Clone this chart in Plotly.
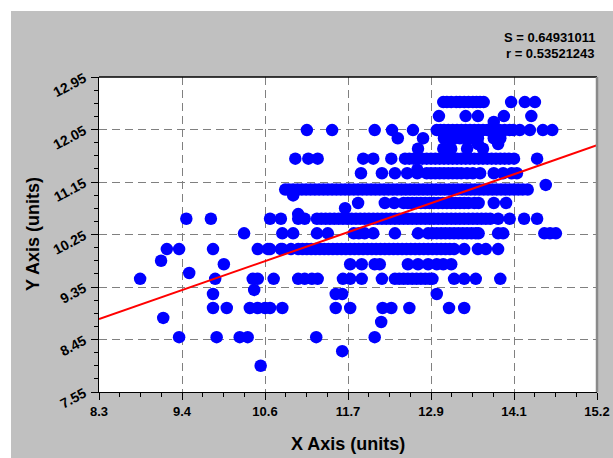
import plotly.graph_objects as go

# ---------------- data ----------------
x_range = [8.3, 15.2]
y_range = [7.55, 12.95]
x_tickvals = [8.3, 9.45, 10.6, 11.75, 12.9, 14.05, 15.2]
x_ticktext = ["8.3", "9.4", "10.6", "11.7", "12.9", "14.1", "15.2"]
y_tickvals = [7.55, 8.45, 9.35, 10.25, 11.15, 12.05, 12.95]
y_ticktext = ["7.55", "8.45", "9.35", "10.25", "11.15", "12.05", "12.95"]

# regression line parameters  y = a + b*x
fit_intercept = 5.215
fit_slope = 0.4319
stat_S = "0.64931011"
stat_r = "0.53521243"

row_12_52 = [13.07, 13.12, 13.18, 13.25, 13.30, 13.36, 13.42, 13.48, 13.53, 13.58, 13.63, 14.01, 14.20, 14.34]
row_12_28 = [13.01, 13.38, 13.55, 13.91, 14.29]
row_12_04 = [11.18, 11.53, 12.12, 12.36, 12.65, 12.98, 13.03, 13.08, 13.14, 13.20, 13.26, 13.32, 13.38,
             13.44, 13.50, 13.56, 13.62, 13.68, 13.78, 13.85, 13.92, 13.99, 14.04, 14.13, 14.27, 14.45, 14.58]
row_11_90 = [12.44, 12.79, 13.08, 13.15, 13.22, 13.30, 13.38, 13.46, 13.55, 13.77, 13.86]
row_11_80 = [13.55, 13.83]
row_11_72 = [12.72, 13.07, 13.18, 13.40, 13.62]
row_11_55 = [11.02, 11.20, 11.33, 11.96, 12.10, 12.35, 12.54, 12.60, 12.66, 12.72, 12.78, 12.84, 12.90,
             12.96, 13.02, 13.08, 13.14, 13.20, 13.26, 13.32, 13.38, 13.44, 13.50, 13.56, 13.62, 13.68,
             13.74, 13.80, 13.86, 13.92, 13.98, 14.05, 14.37]
row_11_30 = [11.93, 12.22, 12.40, 12.57, 12.71, 12.84, 12.90, 12.96, 13.02, 13.08, 13.14, 13.20, 13.26,
             13.32, 13.40, 13.48, 13.58, 13.77, 13.90, 14.02, 14.09]
row_11_02 = [10.88, 10.93, 10.99, 11.05, 11.11, 11.17, 11.23, 11.29, 11.35, 11.41, 11.47, 11.53, 11.59,
             11.65, 11.71, 11.77, 11.83, 11.89, 11.95, 12.01, 12.07, 12.13, 12.19, 12.25, 12.31, 12.37,
             12.43, 12.49, 12.55, 12.61, 12.67, 12.73, 12.79, 12.85, 12.91, 12.97, 13.03, 13.09, 13.15,
             13.21, 13.27, 13.33, 13.39, 13.45, 13.51, 13.57, 13.63, 13.69, 13.75, 13.81, 13.87, 13.93,
             13.99, 14.05, 14.11, 14.17, 14.24]
row_10_79 = [11.89, 12.26, 12.39, 12.52, 12.58, 12.64, 12.70, 12.76, 12.82, 12.88, 12.94, 13.00, 13.06,
             13.12, 13.18, 13.24, 13.30, 13.36, 13.42, 13.50, 13.56, 13.77, 13.94]
row_10_52 = [9.51, 9.85, 10.67, 10.82, 11.06, 11.15, 11.32, 11.38, 11.44, 11.50, 11.56, 11.62, 11.68,
             11.74, 11.80, 11.86, 11.92, 11.98, 12.04, 12.10, 12.16, 12.22, 12.28, 12.34, 12.40, 12.46,
             12.52, 12.58, 12.64, 12.70, 12.76, 12.82, 12.88, 12.94, 13.00, 13.06, 13.12, 13.18, 13.24,
             13.30, 13.36, 13.42, 13.48, 13.54, 13.60, 13.66, 13.72, 13.83, 13.99, 14.19, 14.37]
row_10_27 = [10.31, 10.84, 10.99, 11.32, 11.47, 11.83, 11.90, 11.98, 12.10, 12.40, 12.72, 12.86, 12.92,
             12.98, 13.04, 13.10, 13.16, 13.22, 13.28, 13.34, 13.40, 13.46, 13.52, 13.56, 13.83, 13.90,
             14.47, 14.55, 14.63]
row_10_00 = [9.24, 9.41, 9.88, 10.50, 10.64, 10.67, 10.82, 10.84, 10.96, 11.06, 11.12, 11.18, 11.24,
             11.30, 11.36, 11.42, 11.48, 11.54, 11.60, 11.66, 11.72, 11.78, 11.84, 11.90, 11.96, 12.02,
             12.08, 12.14, 12.20, 12.26, 12.32, 12.38, 12.44, 12.50, 12.56, 12.62, 12.68, 12.74, 12.80,
             12.86, 12.92, 12.98, 13.04, 13.10, 13.16, 13.22, 13.36, 13.55, 13.66, 13.83]
row_9_74 = [10.03, 11.78, 11.94, 12.12, 12.19, 12.58, 12.72, 12.86, 12.98, 13.07, 13.18]
row_9_49 = [8.87, 9.91, 10.43, 10.50, 10.72, 11.06, 11.15, 11.25, 11.33, 11.68, 11.78, 11.94, 12.22,
            12.40, 12.46, 12.52, 12.58, 12.64, 12.70, 12.76, 12.82, 12.88, 12.92, 13.22, 13.36, 13.52, 13.86]
row_9_23 = [9.88, 11.58, 11.67, 12.98]
row_8_99 = [9.88, 10.07, 10.39, 10.50, 10.60, 10.67, 10.84, 11.58, 11.78, 12.23, 12.35, 12.60, 13.15, 13.36]
row_8_75 = [12.21]
row_8_49 = [9.41, 9.93, 10.25, 10.36, 11.31, 12.12]
row_8_25 = [11.67]
row_8_00 = [10.54]

row_levels = [12.52, 12.28, 12.04, 11.90, 11.80, 11.72, 11.55, 11.30, 11.02, 10.79, 10.52, 10.27,
              10.00, 9.74, 9.49, 9.23, 8.99, 8.75, 8.49, 8.25, 8.00]
row_lists = [row_12_52, row_12_28, row_12_04, row_11_90, row_11_80, row_11_72, row_11_55, row_11_30,
             row_11_02, row_10_79, row_10_52, row_10_27, row_10_00, row_9_74, row_9_49, row_9_23,
             row_8_99, row_8_75, row_8_49, row_8_25, row_8_00]

# scattered points not on a row
extra_x = [9.16, 9.55, 9.19, 10.45, 11.06, 10.99, 11.71, 13.77, 14.49, 12.71]
extra_y = [9.80, 9.59, 8.82, 9.30, 10.60, 10.92, 10.70, 12.18, 11.10, 11.36]

# ---------------- build ----------------
xs, ys = [], []
for lvl, lst in zip(row_levels, row_lists):
    xs.extend(lst)
    ys.extend([lvl] * len(lst))
xs.extend(extra_x)
ys.extend(extra_y)

W, H = 613, 458
L, R, T, B = 99, 16, 77, 66
pw, ph = W - L - R, H - T - B


def px(xpix):
    return (xpix - L) / pw


def py(ypix):
    return (H - B - ypix) / ph


FONT = "Liberation Sans, Arial, sans-serif"

fig = go.Figure()
fig.add_trace(go.Scatter(
    x=xs, y=ys, mode="markers",
    marker=dict(color="#0000ff", size=12.5, line=dict(width=0)),
    showlegend=False, hoverinfo="skip",
))
fig.add_trace(go.Scatter(
    x=x_range, y=[fit_intercept + fit_slope * v for v in x_range], mode="lines",
    line=dict(color="#ff0000", width=2), showlegend=False, hoverinfo="skip",
))

axis_common = dict(
    showline=True, linecolor="black", linewidth=1, automargin=False,
    ticks="outside", ticklen=7, tickcolor="black", tickwidth=1,
    showgrid=True, gridcolor="#808080", gridwidth=1, griddash="8px,5px",
    zeroline=False,
)

fig.update_xaxes(
    range=x_range, tickmode="array", tickvals=x_tickvals, ticktext=x_ticktext,
    tickfont=dict(family=FONT, size=13, color="black", weight="bold"),
    minor=dict(ticks="outside", ticklen=4, tickcolor="black", dtick=1.15 / 4, tick0=8.3, showgrid=False),
    **axis_common,
)
fig.update_yaxes(
    range=y_range, tickmode="array", tickvals=y_tickvals, ticktext=y_ticktext, tickangle=-28,
    tickfont=dict(family=FONT, size=14, color="black", weight="bold"),
    ticklabelstandoff=4,
    minor=dict(ticks="outside", ticklen=4, tickcolor="black", dtick=0.225, tick0=7.55, showgrid=False),
    **axis_common,
)

shapes = [
    # white strips outside the grey panel
    dict(type="rect", xref="paper", yref="paper", x0=px(-5), x1=px(11), y0=py(H + 5), y1=py(-5),
         fillcolor="white", line=dict(width=0), layer="below"),
    dict(type="rect", xref="paper", yref="paper", x0=px(-5), x1=px(W + 5), y0=py(11), y1=py(-5),
         fillcolor="white", line=dict(width=0), layer="below"),
    # frame top and right
    dict(type="line", xref="paper", yref="paper", x0=0, x1=1, y0=1, y1=1,
         line=dict(color="black", width=1.5)),
    dict(type="line", xref="paper", yref="paper", x0=1, x1=1, y0=0, y1=1,
         line=dict(color="#8a8a8a", width=2.5)),
]

annotations = [
    dict(text="S = " + stat_S, xref="paper", yref="paper", x=1, y=py(37), xanchor="right", yanchor="middle",
         showarrow=False, font=dict(family=FONT, size=13, color="black", weight="bold")),
    dict(text="r = " + stat_r, xref="paper", yref="paper", x=1, y=py(53), xanchor="right", yanchor="middle",
         showarrow=False, font=dict(family=FONT, size=13, color="black", weight="bold")),
    dict(text="X Axis (units)", xref="paper", yref="paper", x=0.5, y=py(444), xanchor="center",
         yanchor="middle", showarrow=False, font=dict(family=FONT, size=18, color="black", weight="bold")),
    dict(text="Y Axis (units)", xref="paper", yref="paper", x=px(33), y=py(234), xanchor="center",
         yanchor="middle", textangle=-90, showarrow=False,
         font=dict(family=FONT, size=18, color="black", weight="bold")),
]

fig.update_layout(
    width=W, height=H,
    margin=dict(l=L, r=R, t=T, b=B, pad=0, autoexpand=False),
    paper_bgcolor="#c0c0c0", plot_bgcolor="white",
    shapes=shapes, annotations=annotations,
    font=dict(family=FONT),
)

fig.write_html("out.html")
